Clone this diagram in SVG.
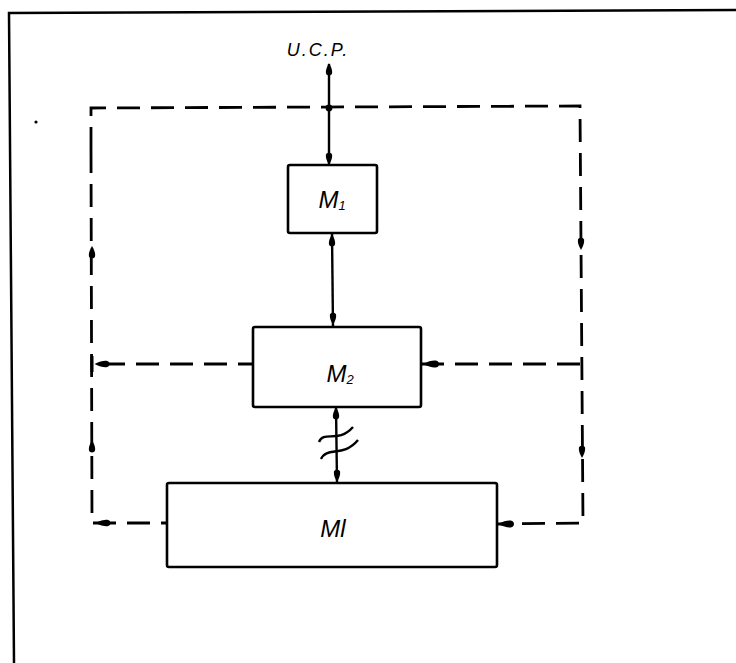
<svg xmlns="http://www.w3.org/2000/svg" xmlns:xlink="http://www.w3.org/1999/xlink" width="736" height="663" viewBox="0 0 736 663">
<style>
.box{fill:#fff;stroke:#000;stroke-width:2.6;stroke-linejoin:round}
.solid{fill:none;stroke:#000;stroke-width:2.4}
.dash{fill:none;stroke:#000;stroke-width:2.8;stroke-dasharray:23 11}
.frame{fill:none;stroke:#000;stroke-width:2.5}
.lbl{font-family:"Liberation Sans",Arial,sans-serif;font-style:italic;fill:#000}
</style>
<defs>
<!-- teardrop pointing up, tip at 0,-6 -->
<path id="tu" d="M0,-7 C2.6,-2.5 3.6,1 3,3.5 C2.4,6 -2.4,6 -3,3.5 C-3.6,1 -2.6,-2.5 0,-7 Z"/>
</defs>
<rect x="0" y="0" width="736" height="663" fill="#fff"/>
<path class="frame" d="M14,663 L9,13 L736,10"/>
<circle cx="36" cy="122" r="1.6" fill="#000"/>

<g id="connectors">
  <!-- solid vertical bus -->
  <line class="solid" x1="329" y1="64" x2="329" y2="165"/>
  <line class="solid" x1="332" y1="233" x2="333" y2="327"/>
  <line class="solid" x1="336" y1="407" x2="337" y2="483"/>
  <!-- break symbol -->
  <path class="solid" d="M319,442 C324,430 338,444 353,427"/>
  <path class="solid" d="M321,459 C327,446 343,458 358,440"/>
  <!-- dashed loop -->
  <path class="dash" d="M91,150 L91,108 L580,106 L583,523 L497,524"/>
  <path class="dash" d="M91,150 L92,523 L167,523"/>
  <line class="dash" x1="253" y1="364" x2="92" y2="364" stroke-dashoffset="8"/>
  <line class="dash" x1="421" y1="364" x2="582" y2="364"/>
  <!-- junction dot -->
  <circle cx="329" cy="108" r="3.4" fill="#000"/>
  <!-- blobs on solid bus -->
  <use xlink:href="#tu" transform="translate(329,70)"/>
  <use xlink:href="#tu" transform="translate(329,158) rotate(180)"/>
  <use xlink:href="#tu" transform="translate(332,241)"/>
  <use xlink:href="#tu" transform="translate(333,318) rotate(180)"/>
  <use xlink:href="#tu" transform="translate(336,414)"/>
  <use xlink:href="#tu" transform="translate(337,475) rotate(180)"/>
  <!-- blobs on dashed loop -->
  <use xlink:href="#tu" transform="translate(92,253)"/>
  <use xlink:href="#tu" transform="translate(92,447)"/>
  <use xlink:href="#tu" transform="translate(581,243) rotate(180)"/>
  <use xlink:href="#tu" transform="translate(582,451) rotate(180)"/>
  <use xlink:href="#tu" transform="translate(103,364) rotate(-90) scale(1,1.2)"/>
  <use xlink:href="#tu" transform="translate(104,523) rotate(-90) scale(1,1.2)"/>
  <use xlink:href="#tu" transform="translate(432,364) rotate(-90) scale(1.1,1.3)"/>
  <use xlink:href="#tu" transform="translate(507,524) rotate(-90) scale(1.1,1.3)"/>
  <line x1="582" y1="358" x2="582" y2="370" stroke="#000" stroke-width="2"/>
  <line x1="92" y1="356" x2="92" y2="372" stroke="#000" stroke-width="3"/>
</g>

<g id="ucp">
  <text class="lbl" x="318" y="56" font-size="18" letter-spacing="2" text-anchor="middle">U.C.P.</text>
</g>
<g id="m1">
  <rect class="box" x="288" y="165" width="89" height="68" rx="2"/>
  <text class="lbl" x="332" y="208" font-size="24" text-anchor="middle">M<tspan font-size="13" dy="2">1</tspan></text>
</g>
<g id="m2">
  <rect class="box" x="253" y="327" width="168" height="80" rx="2"/>
  <text class="lbl" x="340" y="382" font-size="24" text-anchor="middle">M<tspan font-size="13" dy="2">2</tspan></text>
</g>
<g id="ml">
  <rect class="box" x="167" y="483" width="330" height="84" rx="2"/>
  <text class="lbl" x="333" y="537" font-size="24" text-anchor="middle">Ml</text>
</g>
</svg>
